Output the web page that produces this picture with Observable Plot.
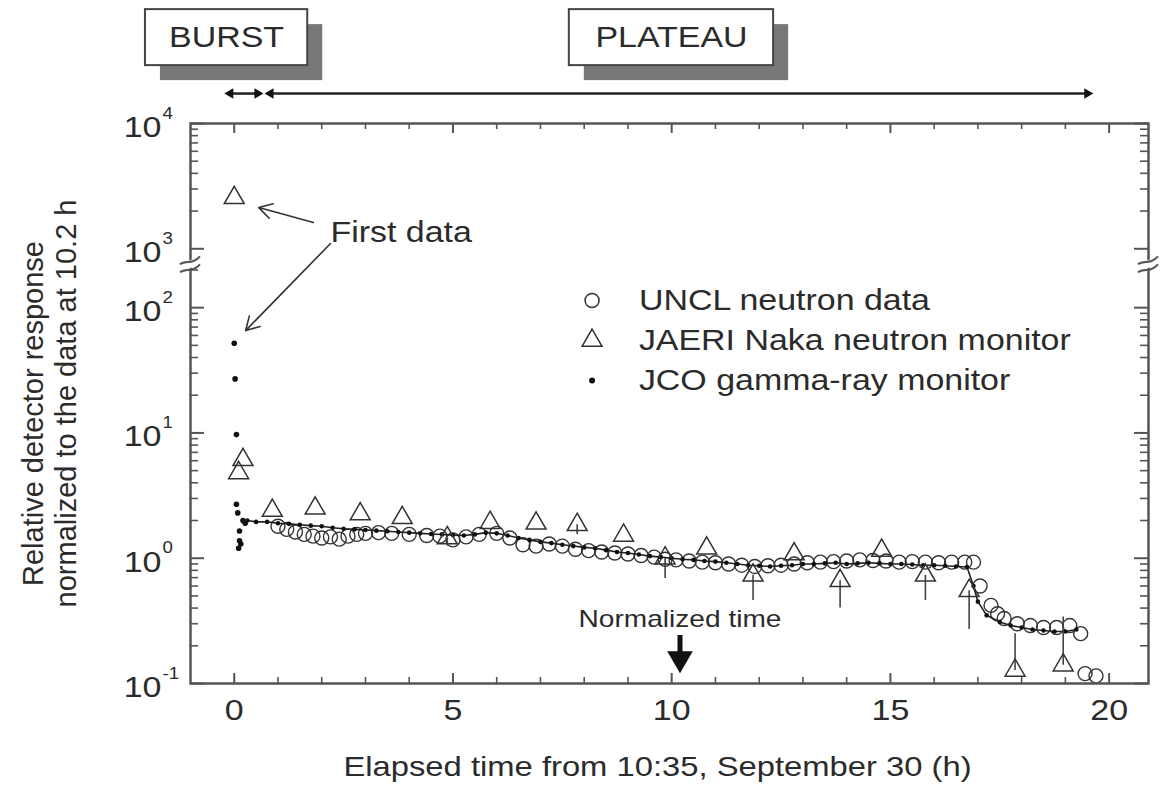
<!DOCTYPE html>
<html><head><meta charset="utf-8">
<script src="https://cdn.jsdelivr.net/npm/d3@7"></script>
<script src="https://cdn.jsdelivr.net/npm/@observablehq/plot@0.6"></script>
<style>
body{margin:0;background:#fff;}
#chart svg{display:block;}
</style></head><body><div id="chart"></div>
<script>
// ---------------- data ----------------
// UNCL neutron data (open circles)
const unclX = [1.0,1.2,1.4,1.6,1.8,2.0,2.2,2.4,2.6,2.8,3.0,3.3,3.6,4.0,4.4,4.7,5.0,5.3,5.6,6.0,6.3,6.6,6.9,7.2,7.5,7.8,8.1,8.4,8.7,9.0,9.3,9.6,9.85,10.1,10.4,10.7,11.0,11.3,11.6,11.9,12.2,12.5,12.8,13.1,13.4,13.7,14.0,14.3,14.6,14.9,15.2,15.5,15.8,16.1,16.4,16.7,16.9,17.05,17.3,17.45,17.6,17.9,18.2,18.5,18.8,19.1,19.35,19.45,19.7];
const unclV = [1.8,1.7,1.62,1.55,1.5,1.45,1.48,1.42,1.5,1.55,1.58,1.6,1.58,1.55,1.52,1.5,1.4,1.48,1.55,1.58,1.45,1.28,1.25,1.3,1.25,1.18,1.15,1.12,1.1,1.08,1.05,1.02,0.98,0.97,0.95,0.93,0.92,0.9,0.88,0.86,0.87,0.88,0.9,0.92,0.93,0.94,0.95,0.97,0.96,0.95,0.93,0.94,0.93,0.92,0.93,0.93,0.93,0.6,0.42,0.36,0.33,0.3,0.29,0.28,0.28,0.29,0.25,0.12,0.115];

// JAERI Naka neutron monitor (open triangles) with error bars
const jaeriX  = [0,0.2,0.1,0.87,1.85,2.88,3.84,4.87,5.85,6.9,7.84,8.9,9.85,10.8,11.86,12.8,13.85,14.8,15.8,16.8,17.85,18.95];
const jaeriV  = [2550,6.1,4.8,2.4,2.5,2.25,2.1,1.45,1.92,1.9,1.85,1.52,1.0,1.2,0.73,1.08,0.66,1.15,0.73,0.55,0.127,0.14];
const jaeriLo = [null,null,null,null,null,null,null,1.25,null,null,1.55,null,0.69,null,0.46,null,0.40,null,0.46,0.27,null,null];
const jaeriHi = [null,null,null,null,null,null,null,null,null,null,null,null,null,null,null,null,null,null,null,null,0.25,0.34];

// JCO gamma-ray monitor (filled dots): burst part and continuous part
const gammaBurstX = [0,0.02,0.05,0.05,0.08,0.1,0.12,0.12,0.15,0.2,0.25];
const gammaBurstV = [52,27,9.7,2.7,2.3,1.2,1.38,1.65,1.3,2.0,1.9];
const gammaX = [0.3,0.5,0.75,1.0,1.25,1.5,1.75,2.0,2.25,2.5,2.75,3.0,3.25,3.5,3.75,4.0,4.25,4.5,4.75,5.0,5.25,5.5,5.75,6.0,6.25,6.5,6.75,7.0,7.25,7.5,7.75,8.0,8.25,8.5,8.75,9.0,9.25,9.5,9.75,10.0,10.25,10.5,10.75,11.0,11.25,11.5,11.75,12.0,12.25,12.5,12.75,13.0,13.25,13.5,13.75,14.0,14.25,14.5,14.75,15.0,15.25,15.5,15.75,16.0,16.25,16.5,16.75,16.9,17.0,17.2,17.5,17.75,18.0,18.25,18.5,18.75,19.0,19.25];
const gammaV = [2.0,1.95,1.95,1.9,1.88,1.85,1.82,1.8,1.75,1.72,1.7,1.68,1.66,1.64,1.62,1.6,1.58,1.56,1.55,1.53,1.52,1.55,1.6,1.58,1.52,1.45,1.4,1.35,1.32,1.28,1.25,1.22,1.2,1.16,1.12,1.1,1.07,1.04,1.02,1.0,0.98,0.97,0.95,0.94,0.92,0.9,0.88,0.87,0.86,0.87,0.88,0.9,0.9,0.91,0.92,0.9,0.91,0.92,0.91,0.9,0.9,0.89,0.88,0.88,0.87,0.86,0.85,0.6,0.45,0.35,0.31,0.29,0.28,0.27,0.265,0.26,0.26,0.27];

// axes
const xMajor = [0,5,10,15,20];
const xMinor = [1,2,3,4,6,7,8,9,11,12,13,14,16,17,18,19];
const yExponents = [-1,0,1,2,3,4];
const yExpLabels = ["-1","0","1","2","3","4"];

// legend
const legendLabels = ["UNCL neutron data","JAERI Naka neutron monitor","JCO gamma-ray monitor"];
const legendSymbols = ["circle","triangle","dot"];

// ---------------- broken log axis ----------------
const GAP = 0.53;      // decades removed between 10^2 and 10^3
const BREAK_Y = 2.35;  // position of the break mark (scale units)
const T = v => { const l = Math.log10(v); return l < 2.6 ? l : l - GAP; };

const W = 1160, H = 791, mL = 190, mR = 12, mT = 123, mB = 108;
const pW = W - mL - mR, pH = H - mT - mB;
const ink = "#2b2b2b", axisInk = "#555";

const yMinor = [];
for (const e of [-1,0,1]) for (let k = 2; k <= 9; k++) yMinor.push(k * 10 ** e);
yMinor.push(200);
for (let k = 2; k <= 9; k++) yMinor.push(k * 1000);
const yMajor = yExponents.map(e => 10 ** e);

const uncl = unclX.map((x,i) => ({x, v: unclV[i]}));
const jaeri = jaeriX.map((x,i) => ({x, v: jaeriV[i], lo: jaeriLo[i], hi: jaeriHi[i]}));
const gammaBurst = gammaBurstX.map((x,i) => ({x, v: gammaBurstV[i]}));
const gamma = gammaX.map((x,i) => ({x, v: gammaV[i]}));
const errBars = jaeri.filter(d => d.lo != null || d.hi != null)
  .map(d => ({x: d.x, y1: d.v, y2: d.lo != null ? d.lo : d.hi}));
const yTicks = yExponents.map((e,i) => ({v: yMajor[i], exp: yExpLabels[i]}));

// annotation layout (x in hours, y in scale units)
const boxes = [
  {label: "BURST", x1: -2.03, x2: 1.68, y1: 3.932, y2: 4.379},
  {label: "PLATEAU", x1: 7.66, x2: 12.33, y1: 3.932, y2: 4.379}
];
const spanY = 3.709;
const spans = [{x1: -0.09, x2: 0.53}, {x1: 0.83, x2: 19.5}];
const heads = [
  {x: -0.09, r: -90}, {x: 0.53, r: 90}, {x: 0.83, r: -90}, {x: 19.5, r: 90}
];
const legendY = [2.057, 1.737, 1.418];
const legendSymX = 8.18, legendTextX = 9.25;
const legend = legendLabels.map((t,i) => ({t, s: legendSymbols[i], y: legendY[i]}));
const firstArrows = [
  {x1: 1.81, v1: 1618, x2: 0.56, v2: 2133},
  {x1: 2.2, v1: 1101, x2: 0.26, v2: 65.6}
];

function breakMarks(index, scales, values, dims) {
  const g = d3.create("svg:g");
  const yb = scales.y(BREAK_Y);
  for (const xb of [dims.marginLeft, dims.width - dims.marginRight]) {
    g.append("path")
      .attr("d", `M${xb-10},${yb+1}L${xb+10},${yb-7}L${xb+10},${yb+1}L${xb-10},${yb+9}Z`)
      .attr("fill", "white");
    for (const o of [0, 8]) {
      g.append("path")
        .attr("d", `M${xb-10},${yb+1+o}C${xb-4},${yb-4+o} ${xb+2},${yb+2+o} ${xb+10},${yb-7+o}`)
        .attr("fill", "none").attr("stroke", axisInk).attr("stroke-width", 2);
    }
  }
  return g.node();
}

const chart = Plot.plot({
  width: W, height: H,
  marginLeft: mL, marginRight: mR, marginTop: mT, marginBottom: mB,
  x: {domain: [-1, 20.9], axis: null},
  y: {domain: [-1, 3.47], axis: null},
  style: {background: "white", fontFamily: "'Liberation Sans', Arial, Helvetica, sans-serif", fontSize: "30px", color: ink},
  marks: [
    // data
    Plot.dot(uncl, {x: "x", y: d => T(d.v), r: 7, stroke: "#333", strokeWidth: 1.4, fill: "none"}),
    Plot.line(gamma, {x: "x", y: d => T(d.v), stroke: "#222", strokeWidth: 1.6}),
    Plot.dot(gamma, {x: "x", y: d => T(d.v), r: 2.3, fill: "#111"}),
    Plot.dot(gammaBurst, {x: "x", y: d => T(d.v), r: 2.8, fill: "#111"}),
    Plot.ruleX(errBars, {x: "x", y1: d => T(d.y1), y2: d => T(d.y2), stroke: "#444", strokeWidth: 1.6}),
    Plot.dot(jaeri, {x: "x", y: d => T(d.v), symbol: "triangle", r: 7.4, stroke: "#333", strokeWidth: 1.5, fill: "none"}),
    // frame, ticks
    Plot.frame({stroke: axisInk, strokeWidth: 2.5}),
    Plot.tickY(yMajor, {y: T, insetRight: pW - 14, stroke: axisInk, strokeWidth: 2}),
    Plot.tickY(yMajor, {y: T, insetLeft: pW - 14, stroke: axisInk, strokeWidth: 2}),
    Plot.tickY(yMinor, {y: T, insetRight: pW - 8, stroke: axisInk, strokeWidth: 1.6}),
    Plot.tickY(yMinor, {y: T, insetLeft: pW - 8, stroke: axisInk, strokeWidth: 1.6}),
    Plot.tickX(xMajor, {x: d => d, insetTop: pH - 10, stroke: axisInk, strokeWidth: 2}),
    Plot.tickX(xMajor, {x: d => d, insetBottom: pH - 10, stroke: axisInk, strokeWidth: 2}),
    Plot.tickX(xMinor, {x: d => d, insetTop: pH - 6, stroke: axisInk, strokeWidth: 1.6}),
    Plot.tickX(xMinor, {x: d => d, insetBottom: pH - 6, stroke: axisInk, strokeWidth: 1.6}),
    breakMarks,
    // tick labels
    Plot.text(xMajor, {x: d => d, text: d => String(d), frameAnchor: "bottom", dy: 36, fill: ink, fontSize: 29}),
    Plot.text(yTicks, {y: d => T(d.v), text: () => "10", frameAnchor: "left", dx: -29, dy: 4, textAnchor: "end", fill: ink, fontSize: 29}),
    Plot.text(yTicks, {y: d => T(d.v), text: "exp", frameAnchor: "left", dx: -28, dy: -10, textAnchor: "start", fill: ink, fontSize: 16}),
    // axis titles
    Plot.text(["Elapsed time from 10:35, September 30 (h)"], {frameAnchor: "bottom", dx: -12, dy: 92, fill: ink, fontSize: 28}),
    Plot.text(["Relative detector response"], {frameAnchor: "left", textAnchor: "middle", dx: -157, dy: 10, rotate: -90, fill: ink, fontSize: 29}),
    Plot.text(["normalized to the data at 10.2 h"], {frameAnchor: "left", textAnchor: "middle", dx: -124, dy: 0, rotate: -90, fill: ink, fontSize: 29}),
    // legend
    Plot.dot(legend.filter(d => d.s === "circle"), {x: () => legendSymX, y: "y", r: 7, stroke: "#333", strokeWidth: 1.5, fill: "none"}),
    Plot.dot(legend.filter(d => d.s === "triangle"), {x: () => legendSymX, y: "y", symbol: "triangle", r: 7.4, stroke: "#333", strokeWidth: 1.5, fill: "none"}),
    Plot.dot(legend.filter(d => d.s === "dot"), {x: () => legendSymX, y: "y", r: 3, fill: "#111"}),
    Plot.text(legend, {x: () => legendTextX, y: "y", text: "t", textAnchor: "start", fill: ink, fontSize: 29}),
    // "First data" annotation
    Plot.text(["First data"], {x: () => 2.2, y: () => T(1346), textAnchor: "start", fill: ink, fontSize: 29}),
    Plot.arrow(firstArrows, {x1: "x1", y1: d => T(d.v1), x2: "x2", y2: d => T(d.v2), stroke: "#333", strokeWidth: 1.6, headLength: 14}),
    // normalized time annotation
    Plot.text(["Normalized time"], {x: () => 10.19, y: () => T(0.324), fill: ink, fontSize: 24}),
    Plot.ruleX([10.19], {x: d => d, y1: () => T(0.2415), y2: () => T(0.16), stroke: "#111", strokeWidth: 5}),
    Plot.dot([10.19], {x: d => d, y: () => T(0.158), symbol: "triangle2", r: 12.2, rotate: 180, fill: "#111"}),
    // top boxes with shadows
    Plot.rect(boxes, {x1: "x1", x2: "x2", y1: "y1", y2: "y2", fill: "#777", dx: 15, dy: 15}),
    Plot.rect(boxes, {x1: "x1", x2: "x2", y1: "y1", y2: "y2", fill: "white", stroke: "#444", strokeWidth: 2}),
    Plot.text(boxes, {x: d => (d.x1 + d.x2) / 2, y: d => (d.y1 + d.y2) / 2, text: "label", fill: ink, fontSize: 29}),
    // top spans
    Plot.link(spans, {x1: "x1", x2: "x2", y1: () => spanY, y2: () => spanY, stroke: "#222", strokeWidth: 2.5}),
    Plot.dot(heads, {x: "x", y: () => spanY, symbol: "triangle2", r: 5, rotate: "r", fill: "#111"})
  ]
});

document.getElementById("chart").appendChild(chart);

// horizontal stretch of the (wide) lettering seen in the figure
chart.querySelectorAll("text").forEach(t => {
  const tr = t.getAttribute("transform") || "";
  if (/rotate/.test(tr) || t.querySelector("tspan")) return;
  const L = t.getComputedTextLength();
  if (L > 0) {
    t.setAttribute("textLength", (L * 1.17).toFixed(1));
    t.setAttribute("lengthAdjust", "spacingAndGlyphs");
  }
});
</script>
</body></html>
